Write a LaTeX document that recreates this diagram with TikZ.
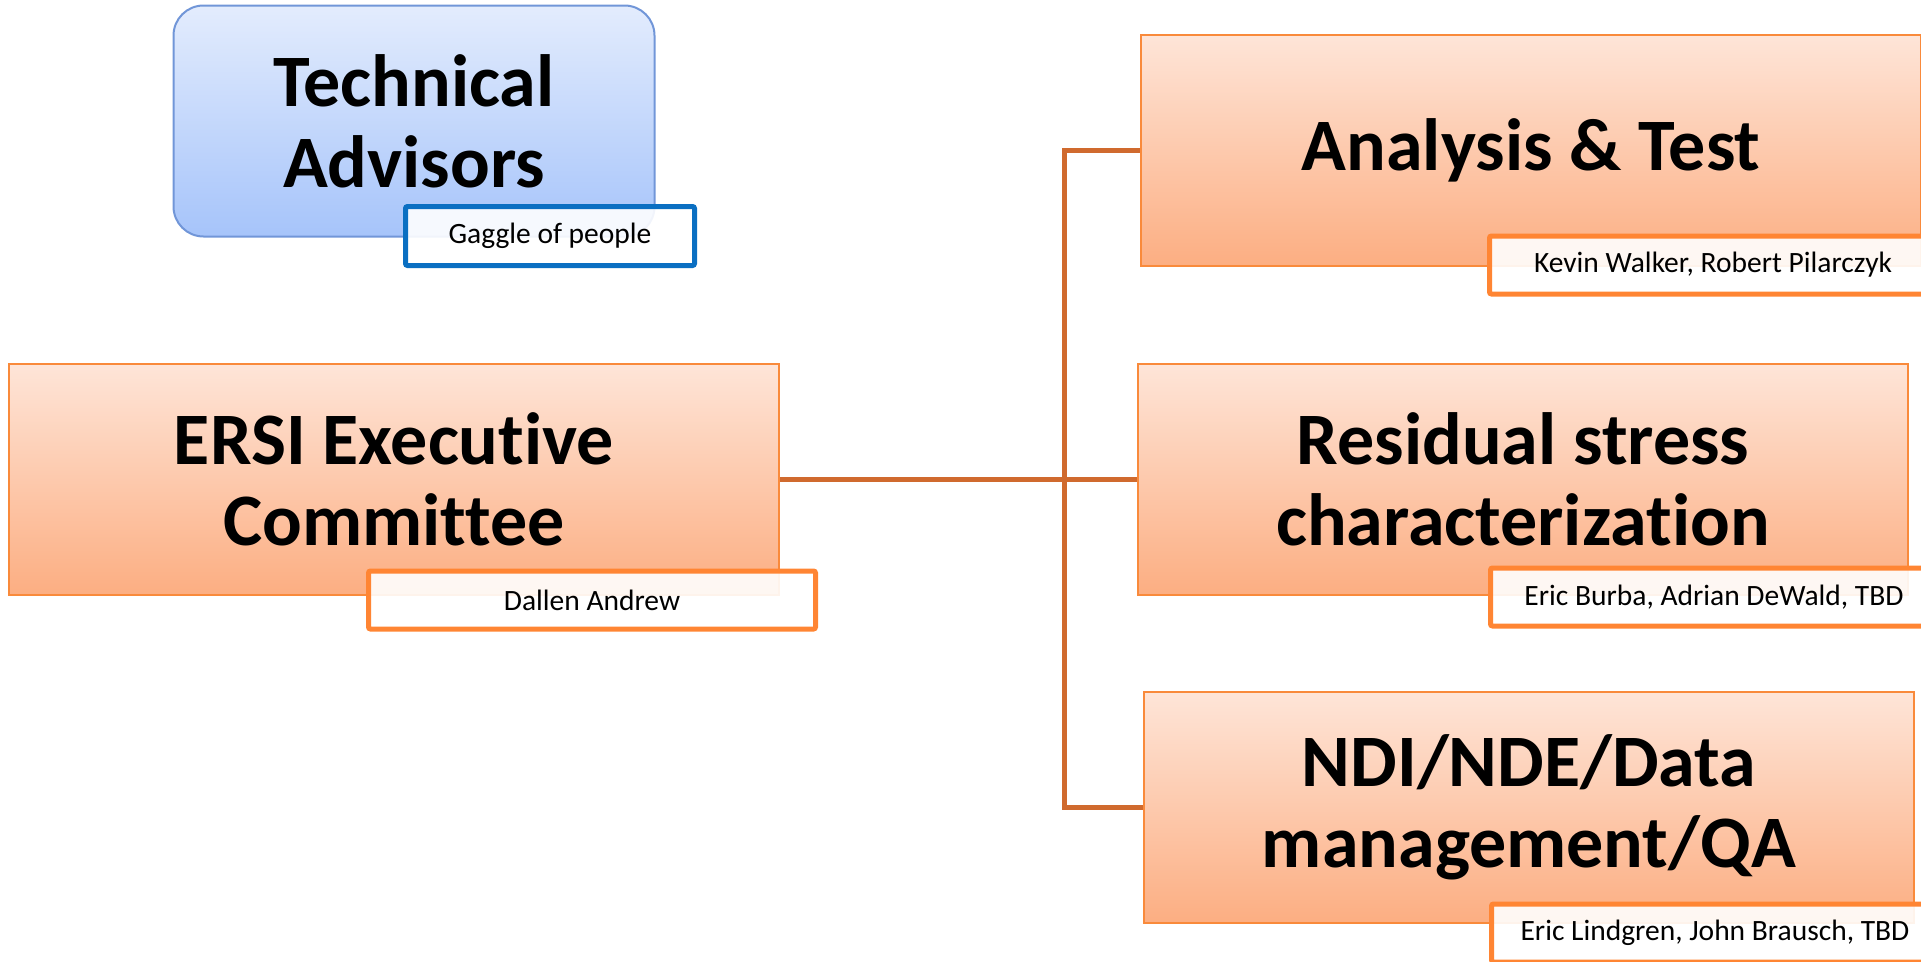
\documentclass[tikz,border=0pt]{standalone}
\usepackage{fontspec}
\setmainfont{Carlito}[Ligatures={NoCommon}]
\usepackage{xcolor}
\usepackage{tikz}
\usetikzlibrary{positioning}

\definecolor{boxline}{HTML}{F98A3B}
\definecolor{boxtop}{HTML}{FEE5D8}
\definecolor{boxbot}{HTML}{FCAE82}
\definecolor{tagline}{HTML}{FF8533}
\definecolor{busline}{HTML}{D06A2E}
\definecolor{advline}{HTML}{7196D8}
\definecolor{advtop}{HTML}{E3ECFD}
\definecolor{advbot}{HTML}{A6C4FA}
\definecolor{advtag}{HTML}{0A6FC2}

\begin{document}
\begin{tikzpicture}[
    x=1pt, y=-1pt,
    unit/.style={rectangle, draw=boxline, line width=2pt, top color=boxtop, bottom color=boxbot, align=center, inner sep=0pt, minimum width=770pt, minimum height=231pt, font=\fontsize{74}{81}\selectfont\bfseries},
    advisor/.style={unit, rounded corners=30pt, draw=advline, top color=advtop, bottom color=advbot, minimum width=481pt, minimum height=231pt},
    tag/.style={rectangle, draw=tagline, line width=5pt, fill=white, fill opacity=0.9, text opacity=1, rounded corners=2pt, align=center, inner sep=0pt, minimum width=447pt, minimum height=58pt, font=\fontsize{29.5}{33}\selectfont},
    bus/.style={draw=busline, line width=5pt}
]
\useasboundingbox (0,0) rectangle (1921,961);

\node[advisor] (adv) at (414,121) {Technical\\Advisors};
\node[tag, draw=advtag, minimum width=289pt, minimum height=59pt] (adv_tag) at (550,236) {Gaggle of people};

\node[unit] (exec) at (394,479) {ERSI Executive\\Committee};
\node[tag] (exec_tag) at (592,600) {Dallen Andrew};

\coordinate (hub) at (1064,479);

\node[unit, minimum width=780pt] (anl) at (1531,150) {Analysis \& Test};
\node[unit] (rsc) at (1523,479) {Residual stress\\characterization};
\node[unit] (ndi) at (1529,807) {NDI/NDE/Data\\management/QA};

\draw[bus] (exec.east) -- (hub);
\draw[bus] (hub) |- (anl.west);
\draw[bus] (hub) -- (rsc.west);
\draw[bus] (hub) |- (ndi.west);

\node[tag] (anl_tag) at (1713,265) {Kevin Walker, Robert Pilarczyk};
\node[tag] (rsc_tag) at (1714,597) {Eric Burba, Adrian DeWald, TBD};
\node[tag] (ndi_tag) at (1715,933) {Eric Lindgren, John Brausch, TBD};

\end{tikzpicture}
\end{document}
